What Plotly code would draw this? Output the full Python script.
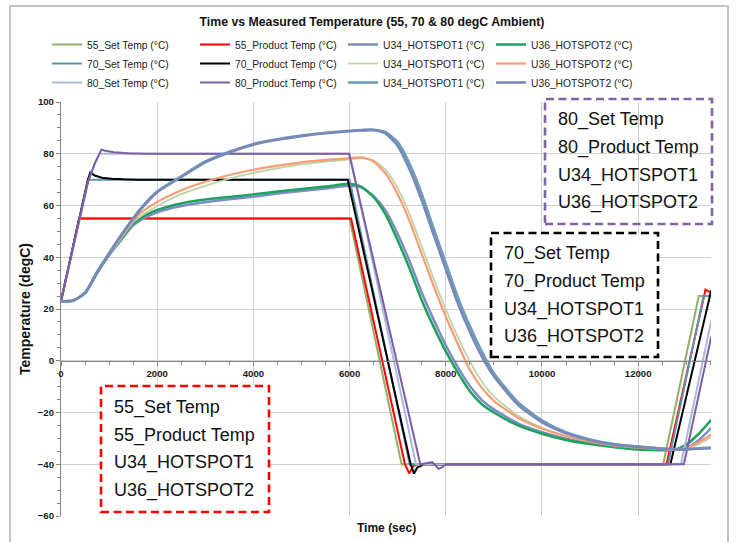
import plotly.graph_objects as go

# ---------------- data (time in sec, temperature in degC) ----------------
# set-point and product temperature profiles, one time base per series
t_set55 = [0, 375, 6000, 7080, 12520, 13260, 13520]
set55 = [23, 55, 55, -40, -40, 25, 25]

t_prod55 = [0, 380, 6030, 7150, 7240, 7330, 7420, 12590, 13400, 13520]
prod55 = [23, 55, 55, -40, -43.5, -40.6, -40, -40, 27.5, 26.2]

t_set70 = [0, 380, 560, 6000, 7250, 12620, 13360, 13520]
set70 = [23, 55, 70, 70, -40, -40, 25, 25]

t_prod70 = [0, 380, 560, 610, 700, 850, 1050, 1300, 1600, 5960, 7270, 7340,
            7410, 7470, 7530, 12670, 13520]
prod70 = [23, 55, 70, 72.8, 71.6, 70.7, 70.3, 70.1, 70, 70, -40, -43.6,
          -41.2, -40.8, -40, -40, 27.3]

t_set80 = [0, 380, 560, 700, 800, 6000, 7380, 12890, 13520]
set80 = [23, 55, 69, 76, 80, 80, -40, -40, 15.5]

t_prod80 = [0, 380, 560, 700, 840, 920, 1100, 1400, 1800, 5990, 7470, 7560,
            7650, 7720, 7790, 7850, 7920, 8010, 12950, 13520]
prod80 = [23, 55, 69, 76.2, 81.6, 81.2, 80.6, 80.2, 80, 80, -40, -39.7,
          -39.4, -39.2, -40.6, -41.8, -41.2, -40, -40, 9.4]

# hot-spot thermocouples share one time base
t_hot = [0, 250, 500, 750, 1000, 1250, 1500, 1750, 2000, 2500, 3000, 3500,
         4000, 4500, 5000, 5500, 6000, 6250, 6500, 6750, 7000, 7250, 7500,
         7750, 8000, 8250, 8500, 8750, 9000, 9500, 10000, 10500, 11000,
         11500, 12000, 12500, 12750, 13000, 13250, 13520]

u34_55 = [23.0, 23.3, 26.0, 33.8, 40.8, 46.7, 52.3, 55.3, 57.4, 59.8, 61.3,
          62.4, 63.4, 64.6, 65.6, 66.6, 67.6, 66.9, 63.6, 58.0, 49.0, 38.4,
          26.4, 15.8, 6.0, -2.5, -9.8, -15.2, -18.8, -24.2, -27.6, -30.1,
          -31.8, -33.1, -34.0, -34.4, -34.5, -33.6, -30.8, -26.0]
u36_55 = [23.0, 23.3, 26.2, 34.0, 41.0, 47.0, 53.0, 56.2, 58.3, 60.8, 62.3,
          63.3, 64.3, 65.4, 66.4, 67.3, 68.4, 67.2, 63.2, 56.5, 46.5, 35.5,
          23.4, 13.0, 3.6, -4.6, -11.8, -16.8, -20.0, -25.0, -28.2, -30.6,
          -32.2, -33.4, -34.3, -34.6, -34.4, -32.4, -28.4, -22.8]
u34_70 = [23.0, 23.3, 26.2, 34.0, 41.0, 47.3, 53.6, 57.0, 59.8, 64.4, 67.6,
          70.4, 72.6, 74.4, 75.9, 77.0, 77.8, 78.3, 77.4, 73.8, 66.6, 56.5,
          44.2, 31.6, 19.8, 9.2, -0.3, -8.0, -13.8, -21.2, -25.9, -29.0,
          -31.1, -32.6, -33.5, -34.1, -34.3, -33.9, -32.3, -29.6]
u36_70 = [23.0, 23.3, 26.3, 34.2, 41.3, 47.8, 54.4, 58.4, 61.4, 65.9, 69.2,
          71.8, 73.8, 75.4, 76.7, 77.6, 78.3, 78.6, 77.0, 72.3, 64.3, 53.8,
          41.3, 28.7, 17.0, 6.5, -3.5, -10.5, -15.5, -22.0, -26.2, -29.2,
          -31.3, -32.8, -33.6, -34.2, -34.4, -33.6, -31.6, -28.5]
u34_80 = [23.0, 23.2, 26.3, 34.3, 41.6, 48.6, 55.2, 60.8, 65.5, 71.3, 77.0,
          80.8, 83.8, 85.6, 87.0, 88.1, 88.9, 89.2, 89.3, 88.3, 84.5, 76.0,
          64.5, 51.0, 37.8, 24.6, 13.4, 3.5, -4.8, -16.0, -23.0, -27.6,
          -30.4, -32.2, -33.2, -33.9, -34.1, -34.1, -33.8, -33.5]
u36_80 = [23.0, 23.2, 26.2, 34.2, 41.4, 48.3, 54.8, 60.4, 65.1, 71.0, 76.7,
          80.5, 83.5, 85.4, 86.8, 87.9, 88.7, 89.0, 89.1, 87.8, 83.0, 73.8,
          62.0, 48.6, 35.3, 22.2, 11.2, 1.6, -6.0, -17.0, -23.8, -28.0,
          -30.7, -32.4, -33.3, -34.0, -34.3, -34.3, -34.0, -33.8]

x_ticks = [0, 2000, 4000, 6000, 8000, 10000, 12000]
y_ticks = [-60, -40, -20, 0, 20, 40, 60, 80, 100]

box_labels = {
    "55": ["55_Set Temp", "55_Product Temp", "U34_HOTSPOT1", "U36_HOTSPOT2"],
    "70": ["70_Set Temp", "70_Product Temp", "U34_HOTSPOT1", "U36_HOTSPOT2"],
    "80": ["80_Set Temp", "80_Product Temp", "U34_HOTSPOT1", "U36_HOTSPOT2"],
}

# ---------------- figure ----------------
FONT = "Liberation Sans, Arial, sans-serif"
W, H = 736, 542
ML, MR, MT, MB = 61, 25, 102, 26
PW, PH = W - ML - MR, H - MT - MB


def px(xp):
    return (xp - ML) / PW


def py(yp):
    return (H - MB - yp) / PH


series = [
    ("55_Set Temp (°C)", t_set55, set55, "#94AE6A", 2, "linear"),
    ("55_Product Temp (°C)", t_prod55, prod55, "#FF0000", 2, "linear"),
    ("U34_HOTSPOT1 (°C)", t_hot, u34_55, "#7C8CC4", 2.5, "spline"),
    ("U36_HOTSPOT2 (°C)", t_hot, u36_55, "#1FA15E", 2.5, "spline"),
    ("70_Set Temp (°C)", t_set70, set70, "#5F94AE", 2, "linear"),
    ("70_Product Temp (°C)", t_prod70, prod70, "#000000", 2, "linear"),
    ("U34_HOTSPOT1 (°C)", t_hot, u34_70, "#BFD3A6", 1.8, "spline"),
    ("U36_HOTSPOT2 (°C)", t_hot, u36_70, "#F59D74", 2.2, "spline"),
    ("80_Set Temp (°C)", t_set80, set80, "#AAB9D9", 2, "linear"),
    ("80_Product Temp (°C)", t_prod80, prod80, "#7D5CA8", 2, "linear"),
    ("U34_HOTSPOT1 (°C)", t_hot, u34_80, "#6B9DBA", 2.6, "spline"),
    ("U36_HOTSPOT2 (°C)", t_hot, u36_80, "#7889B8", 2.6, "spline"),
]

fig = go.Figure()
for name, tx, ty, color, width, shape in series:
    line = dict(color=color, width=width, shape=shape)
    if shape == "spline":
        line["smoothing"] = 0.6
    fig.add_trace(go.Scatter(x=tx, y=ty, mode="lines", name=name, line=line))

grid = "#D0D0D0"
axis_col = "#868686"
tick_font = dict(family=FONT, size=9.6, color="#1A1A1A", weight="bold")

fig.update_xaxes(
    range=[0, 13514], tickvals=x_ticks,
    tickformat="d", showgrid=True, gridcolor=grid, gridwidth=1.2,
    zeroline=False, showline=True, linecolor=axis_col, linewidth=1.2,
    anchor="free", position=60 / 160,
    ticks="outside", ticklen=4, tickcolor=axis_col,
    minor=dict(dtick=500, ticks="outside", ticklen=3, tickcolor=axis_col, showgrid=False),
    tickfont=tick_font, fixedrange=True,
)
fig.update_yaxes(
    range=[-60, 100], tickvals=y_ticks,
    showgrid=True, gridcolor=grid, gridwidth=1.2,
    zeroline=False, showline=True, linecolor=axis_col, linewidth=1.2,
    ticks="outside", ticklen=4, tickcolor=axis_col,
    minor=dict(dtick=5, ticks="outside", ticklen=3, tickcolor=axis_col, showgrid=False),
    tickfont=tick_font,
    title=dict(text="<b>Temperature (degC)</b>", font=dict(family=FONT, size=14, color="#111"),
               standoff=3),
)

shapes = []
annotations = []

# outer chart frame
shapes.append(dict(type="rect", xref="paper", yref="paper",
                   x0=px(10), x1=px(728), y0=py(548), y1=py(6),
                   line=dict(color="#C4C4C4", width=2), layer="below"))

# dashed label boxes: (key, colour, x0, x1, y0, y1, fill, text left, first line y)
boxes = [
    ("80", "#8064A2", 545, 712, 99, 224, "rgba(0,0,0,0)", 556, 120),
    ("70", "#000000", 491, 658, 233, 357, "white", 502, 254),
    ("55", "#FF0000", 101, 269, 386, 512, "white", 112, 407.5),
]
for key, col, x0, x1, y0, y1, fill, tx, ty in boxes:
    shapes.append(dict(type="rect", xref="paper", yref="paper",
                       x0=px(x0), x1=px(x1), y0=py(y1), y1=py(y0),
                       line=dict(color=col, width=2.6, dash="8px,4.5px"),
                       fillcolor=fill, layer="above"))
    for i, lab in enumerate(box_labels[key]):
        annotations.append(dict(
            text=lab, xref="paper", yref="paper", x=px(tx), y=py(ty + i * 27.5),
            xanchor="left", yanchor="middle", showarrow=False,
            font=dict(family=FONT, size=18, color="#111")))

# x axis title sits under the plot area (axis itself is drawn at y = 0)
annotations.append(dict(text="<b>Time (sec)</b>", xref="paper", yref="paper",
                        x=px(386), y=py(528), xanchor="center", yanchor="middle",
                        showarrow=False, font=dict(family=FONT, size=12, color="#111")))

fig.update_layout(
    width=W, height=H,
    margin=dict(l=ML, r=MR, t=MT, b=MB),
    paper_bgcolor="white", plot_bgcolor="white",
    font=dict(family=FONT),
    title=dict(text="<b>Time vs Measured Temperature (55, 70 &amp; 80 degC Ambient)</b>",
               x=372 / W, xanchor="center", y=1 - 22 / H, yanchor="middle",
               xref="container", yref="container",
               font=dict(family=FONT, size=12.3, color="#111")),
    legend=dict(orientation="h", traceorder="normal",
                x=px(47), xanchor="left", y=py(30), yanchor="top",
                entrywidth=103, entrywidthmode="pixels",
                font=dict(family=FONT, size=10.3, color="#222"),
                bgcolor="rgba(0,0,0,0)", itemclick=False, itemdoubleclick=False),
    shapes=shapes,
    annotations=annotations,
    showlegend=True,
)

fig.write_html("out.html")
